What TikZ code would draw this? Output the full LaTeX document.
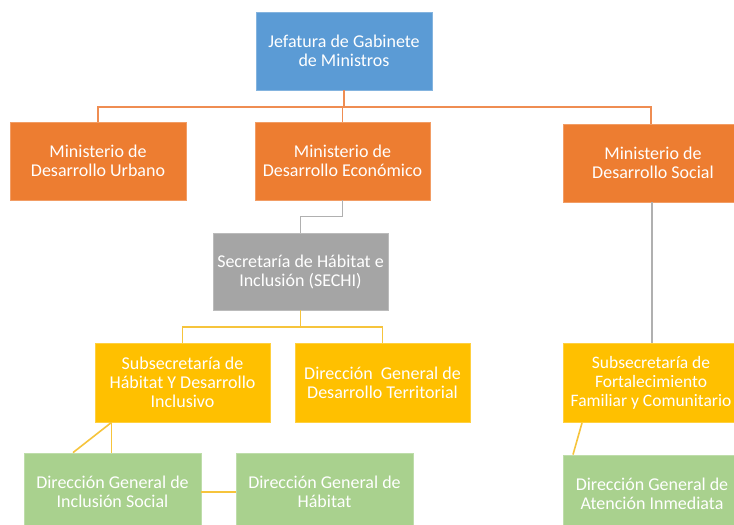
\documentclass[tikz,border=0pt]{standalone}
\usepackage{fontspec}
\setmainfont{Carlito}
\definecolor{cblue}{HTML}{5B9BD5}
\definecolor{corange}{HTML}{ED7D31}
\definecolor{cgray}{HTML}{A5A5A5}
\definecolor{cyellow}{HTML}{FFC000}
\definecolor{cgreen}{HTML}{A9D18E}
\definecolor{lorange}{HTML}{EF8D52}
\definecolor{lyellow}{HTML}{F6C43C}
\definecolor{lgray}{HTML}{B0B0B0}
\begin{document}
\begin{tikzpicture}[x=1pt,y=-1pt,
  box/.style={draw=#1!75!white, line width=0.8pt, fill=#1, text=white,
    minimum width=176pt, minimum height=78pt, inner sep=0pt, align=center,
    font=\fontsize{18}{19}\selectfont},
  olink/.style={draw=lorange, line width=1.6pt},
  glink/.style={draw=lgray, line width=1.6pt},
  ylink/.style={draw=lyellow, line width=1.6pt}]
\useasboundingbox (0,0) rectangle (734,525);
\clip (0,0) rectangle (734,525);
\fill[white] (0,0) rectangle (734,525);

\node[box=cblue] (jgm) at (344,51) {Jefatura de Gabinete\\de Ministros};
\node[box=corange] (mdu) at (98,161) {Ministerio de\\Desarrollo Urbano};
\node[box=corange, minimum width=175pt] (mde) at (342.5,161) {Ministerio de\\Desarrollo Económico};
\node[box=corange, minimum width=180pt] (mds) at (653,163) {Ministerio de\\Desarrollo Social};
\node[box=cgray, minimum width=175pt, minimum height=77pt] (sechi) at (300.5,271.5) {Secretaría de Hábitat e\\Inclusión (SECHI)};
\node[box=cyellow, minimum width=175pt, minimum height=79pt] (shd) at (182.5,382.5) {Subsecretaría de\\Hábitat Y Desarrollo\\Inclusivo};
\node[box=cyellow, minimum width=175pt, minimum height=79pt] (dgdt) at (382.5,382.5) {Dirección~ General de\\Desarrollo Territorial};
\node[box=cyellow, minimum width=176pt, minimum height=79pt, font=\fontsize{17.5}{19}\selectfont] (sff) at (651,383) {Subsecretaría de\\Fortalecimiento\\Familiar y Comunitario};
\node[box=cgreen, minimum width=177pt] (dgis) at (112.5,492) {Dirección General de\\Inclusión Social};
\node[box=cgreen, minimum width=177pt] (dgh) at (324.5,492) {Dirección General de\\Hábitat};
\node[box=cgreen, minimum width=178pt] (dgai) at (652,494) {Dirección General de\\Atención Inmediata};

% orange bus
\coordinate (bus1) at (344,107);
\draw[olink] (jgm.south) -- (bus1);
\draw[olink] (bus1) -| (mdu.north);
\draw[olink] (bus1) -| (mde.north);
\draw[olink] (bus1) -| ([xshift=-2pt]mds.north);

% gray links
\draw[glink] ([xshift=-1pt]mds.south) -- ([xshift=-1pt]mds.south |- sff.north);
\draw[glink] (mde.south) -- ++(0,16) -| (sechi.north);

% yellow bus
\coordinate (bus2) at (300.5,327);
\draw[ylink] (sechi.south) -- (bus2);
\draw[ylink] (bus2) -| (shd.north);
\draw[ylink] (bus2) -| (dgdt.north);

% bottom yellow links
\coordinate (sh1) at ([xshift=-71pt]shd.south);
\draw[ylink] (sh1) -- (sh1 |- dgis.north);
\draw[ylink] (sh1) -- ([xshift=-39.5pt]dgis.north);
\draw[ylink] (dgis.east) -- (dgh.west);
\draw[ylink] ([xshift=-69pt]sff.south) -- ([xshift=-79pt]dgai.north);
\end{tikzpicture}
\end{document}
